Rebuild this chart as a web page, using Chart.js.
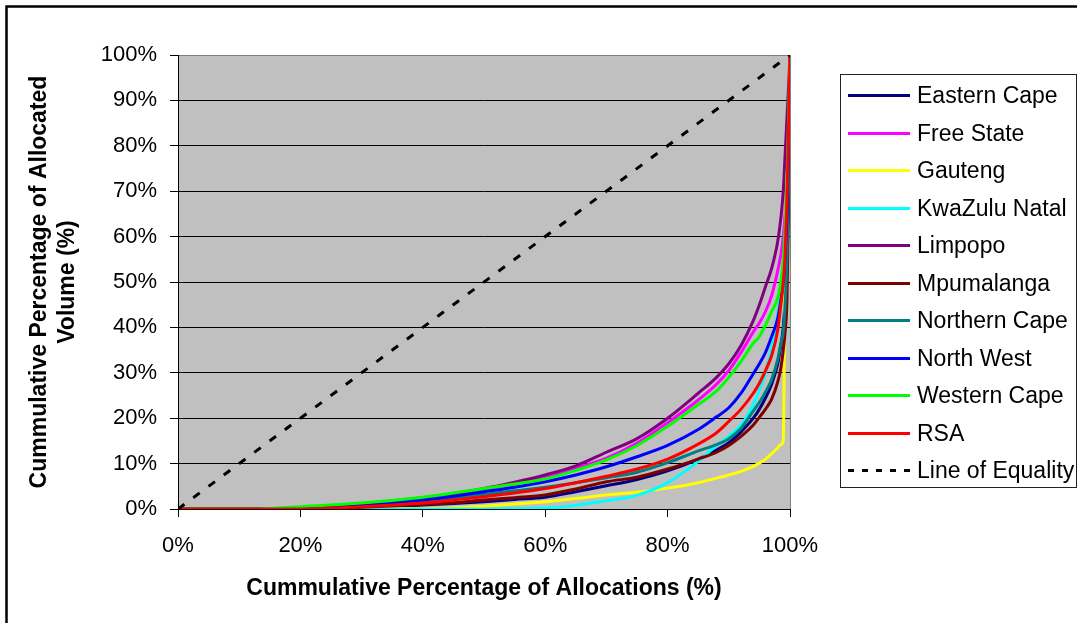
<!DOCTYPE html>
<html>
<head>
<meta charset="utf-8">
<script src="https://cdn.jsdelivr.net/npm/chart.js@4/dist/chart.umd.min.js"></script>
<style>
html,body{margin:0;padding:0;background:#fff;}
canvas{display:block;}
</style>
</head>
<body>
<canvas id="c" width="1077" height="623"></canvas>
<script>
// Cumulative percentage of allocations (x, %)
const allocationPct = [0, 10, 13, 20, 30, 40, 45, 50, 55, 60, 65, 70, 75, 80, 85, 88, 90, 92, 94, 95, 96, 97, 98, 98.5, 98.9, 99.2, 99.5, 99.8, 100];

// Cumulative percentage of allocated volume (y, %) per province
const easternCape   = [0, 0, 0, 0, 0.3, 0.9, 1.2, 1.6, 2.1, 2.6, 3.8, 5.1, 6.5, 8.4, 11, 13, 14.6, 17, 20, 22, 24.5, 27.5, 32, 36, 40, 46, 55, 75, 100];
const freeState     = [0, 0, 0, 0.2, 1, 2.2, 3.1, 4.3, 5.5, 6.9, 9, 11.2, 14.5, 19, 24, 27.5, 30.5, 34.5, 39, 41, 43.5, 47, 52.5, 56, 60, 65, 75, 88, 100];
const gauteng       = [0, 0, 0, 0, 0, 0.1, 0.2, 0.6, 1.1, 1.6, 2.3, 3.1, 3.7, 4.6, 5.8, 6.8, 7.5, 8.3, 9.4, 10.1, 11, 12.2, 13.5, 14.2, 15, 55, 80, 93, 100];
const kwaZuluNatal  = [0, 0, 0, 0, 0, 0, 0, 0, 0.05, 0.2, 0.8, 1.8, 3, 5.8, 10.5, 14, 16, 18.5, 23, 26.2, 30, 35.5, 43, 48, 53, 58, 68, 82, 100];
const limpopo       = [0, 0, 0, 0.3, 1.2, 2.5, 3.4, 4.5, 5.9, 7.5, 9.5, 12.5, 15.5, 20, 25.5, 29, 32, 36, 41.5, 45, 49, 53, 59, 64, 70, 78, 86, 94, 100];
const mpumalanga    = [0, 0, 0, 0, 0.4, 1.0, 1.4, 2.0, 2.5, 3.1, 4.4, 6, 7, 8.8, 11, 12.5, 14, 16, 18.5, 20.2, 22, 24.2, 28, 31, 35, 39, 46, 70, 100];
const northernCape  = [0, 0, 0, 0.1, 0.7, 1.6, 2.3, 3.2, 4, 4.8, 5.8, 6.9, 8.1, 10.2, 12.8, 14.2, 15.5, 17.8, 21.6, 23.5, 25.8, 28.5, 33, 36.5, 39, 45, 55, 75, 100];
const northWest     = [0, 0, 0, 0.2, 1, 2, 2.8, 3.8, 4.8, 6, 7.5, 9.3, 11.5, 14, 17.5, 20.3, 22.3, 25.5, 29.8, 32, 34.5, 38, 42, 46, 50, 56, 65, 82, 100];
const westernCape   = [0, 0, 0, 0.5, 1.3, 2.6, 3.5, 4.5, 5.5, 6.6, 8.5, 10.8, 14, 18.2, 23, 26, 29, 32.5, 36.5, 38, 40.5, 43.5, 46.5, 50, 55, 62, 72, 88, 100];
const rsa           = [0, 0, 0, 0, 0.5, 1.3, 2, 2.7, 3.5, 4.5, 5.8, 7.2, 8.8, 11, 14.3, 16.8, 19.3, 22, 25.5, 27.7, 30.5, 33.8, 39.5, 45, 50, 56, 68, 85, 100];

// Line of equality
const equalityX = [0, 100];
const equalityY = [0, 100];

const seriesNames = ['Eastern Cape', 'Free State', 'Gauteng', 'KwaZulu Natal', 'Limpopo', 'Mpumalanga', 'Northern Cape', 'North West', 'Western Cape', 'RSA'];
const seriesValues = [easternCape, freeState, gauteng, kwaZuluNatal, limpopo, mpumalanga, northernCape, northWest, westernCape, rsa];
const equalityName = 'Line of Equality';

const xTickValues = [0, 20, 40, 60, 80, 100];
const yTickValues = [0, 10, 20, 30, 40, 50, 60, 70, 80, 90, 100];

// styles
const seriesColors = ['#000080', '#FF00FF', '#FFFF00', '#00FFFF', '#800080', '#800000', '#008080', '#0000FF', '#00FF00', '#FF0000'];
const FONT = "'Liberation Sans', Arial, sans-serif";

const datasets = seriesNames.map((name, i) => ({
  label: name,
  data: allocationPct.map((x, k) => ({x: x, y: seriesValues[i][k]})),
  borderColor: seriesColors[i],
  backgroundColor: seriesColors[i],
  borderWidth: 3,
  pointRadius: 0,
  fill: false,
  cubicInterpolationMode: 'monotone',
  order: 20 - i
}));
datasets.push({
  label: equalityName,
  data: equalityX.map((x, k) => ({x: x, y: equalityY[k]})),
  borderColor: '#000000',
  backgroundColor: '#000000',
  borderWidth: 3,
  borderDash: [8, 11],
  pointRadius: 0,
  fill: false,
  order: 0,
  isDashed: true
});

const framePlugin = {
  id: 'frame',
  beforeDraw(chart) {
    const ctx = chart.ctx, a = chart.chartArea;
    ctx.save();
    ctx.fillStyle = '#ffffff';
    ctx.fillRect(0, 0, chart.width, chart.height);
    ctx.fillStyle = '#C0C0C0';
    ctx.fillRect(a.left, a.top, a.right - a.left, a.bottom - a.top);
    ctx.restore();
  },
  beforeDatasetsDraw(chart) {
    const ctx = chart.ctx, a = chart.chartArea;
    ctx.save();
    ctx.strokeStyle = '#808080';
    ctx.lineWidth = 1;
    ctx.beginPath();
    ctx.moveTo(a.left + 1, a.top + 0.5);
    ctx.lineTo(a.right + 0.5, a.top + 0.5);
    ctx.lineTo(a.right + 0.5, a.bottom);
    ctx.stroke();
    ctx.restore();
  },
  afterDraw(chart) {
    const ctx = chart.ctx;
    ctx.save();
    // outer frame
    ctx.strokeStyle = '#000';
    ctx.lineWidth = 2.5;
    ctx.strokeRect(6.5, 6.5, 1200, 800);
    // legend box
    ctx.lineWidth = 1;
    ctx.strokeStyle = '#222';
    ctx.strokeRect(840.5, 74.5, 236, 413);
    const ds = chart.data.datasets;
    ctx.font = '23px ' + FONT;
    ctx.textBaseline = 'alphabetic';
    ctx.textAlign = 'left';
    ds.forEach((d, i) => {
      const y = 95 + i * 37.5;
      ctx.strokeStyle = d.borderColor;
      ctx.lineWidth = 3;
      ctx.setLineDash(d.isDashed ? [6, 8] : []);
      ctx.beginPath();
      ctx.moveTo(848, Math.round(y) + 0.5);
      ctx.lineTo(910, Math.round(y) + 0.5);
      ctx.stroke();
      ctx.setLineDash([]);
      ctx.fillStyle = '#000';
      ctx.fillText(d.label, 917, y + 8.2);
    });
    ctx.restore();
  }
};

new Chart(document.getElementById('c'), {
  type: 'line',
  data: { datasets: datasets },
  plugins: [framePlugin],
  options: {
    responsive: false,
    animation: false,
    devicePixelRatio: 1,
    layout: { padding: { left: 0, top: 55, right: 287, bottom: 0 } },
    plugins: { legend: { display: false }, tooltip: { enabled: false } },
    scales: {
      x: {
        type: 'linear',
        min: 0, max: 100,
        afterFit(scale) { scale.height = 114; },
        afterBuildTicks(scale) { scale.ticks = xTickValues.map(v => ({value: v})); },
        ticks: {
          color: '#000',
          font: { family: FONT, size: 22 },
          padding: 16,
          maxRotation: 0,
          callback: v => v + '%'
        },
        grid: { drawOnChartArea: false, drawTicks: true, tickLength: 8, color: '#000', lineWidth: 1 },
        border: { display: true, color: '#000', width: 1 },
        title: {
          display: true,
          text: 'Cummulative Percentage of Allocations (%)',
          color: '#000',
          font: { family: FONT, size: 23, weight: 'bold' },
          padding: { top: 0, bottom: 21 }
        }
      },
      y: {
        type: 'linear',
        min: 0, max: 100,
        afterFit(scale) { scale.width = 178; },
        afterBuildTicks(scale) { scale.ticks = yTickValues.map(v => ({value: v})); },
        ticks: {
          color: '#000',
          font: { family: FONT, size: 22 },
          padding: 13,
          callback: v => v + '%'
        },
        grid: { drawOnChartArea: true, drawTicks: true, tickLength: 8, color: '#000', lineWidth: 1 },
        border: { display: true, color: '#000', width: 1 },
        title: {
          display: true,
          text: ['Cummulative Percentage of Allocated', 'Volume (%)'],
          color: '#000',
          font: { family: FONT, size: 23, weight: 'bold', lineHeight: 1.2 },
          padding: { top: 26, bottom: 0 }
        }
      }
    }
  }
});
</script>
</body>
</html>
